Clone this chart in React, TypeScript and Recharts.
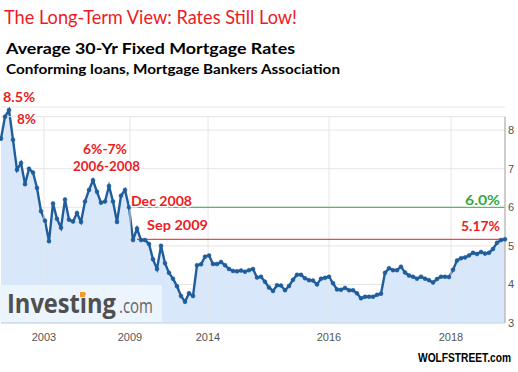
import {
    ComposedChart,
    Area,
    XAxis,
    YAxis,
    CartesianGrid,
    ReferenceLine,
} from "recharts"

// MBA 30-yr fixed rate, samples, oldest first
const rates = [
    7.78, 8.35, 8.52, 7.75, 6.97, 7.15, 6.6, 7.0, 6.9, 6.5,
    5.9, 5.65, 5.12, 6.1, 5.7, 5.47, 6.2, 5.68, 5.63, 5.85,
    5.62, 6.15, 6.45, 6.7, 6.4, 6.12, 6.15, 6.55, 6.15, 5.62,
    6.3, 6.45, 6.0, 5.15, 5.45, 5.15, 5.15, 5.05, 4.65, 4.4,
    5.0, 4.55, 4.3, 4.15, 3.95, 3.7, 3.55, 3.77, 3.7, 4.5,
    4.52, 4.72, 4.75, 4.53, 4.53, 4.58, 4.5, 4.4, 4.35, 4.34,
    4.36, 4.33, 4.37, 4.4, 4.18, 4.2, 4.07, 3.92, 3.83, 3.98,
    3.97, 3.85, 3.96, 4.12, 4.25, 4.25, 4.16, 4.11, 4.1, 4.0,
    4.15, 4.17, 4.2, 4.03, 3.87, 3.86, 3.91, 3.85, 3.85, 3.77,
    3.64, 3.68, 3.68, 3.68, 3.73, 3.76, 4.3, 4.42, 4.37, 4.37,
    4.46, 4.31, 4.23, 4.2, 4.15, 4.2, 4.15, 4.11, 4.05, 4.14,
    4.2, 4.2, 4.19, 4.38, 4.62, 4.68, 4.7, 4.75, 4.82, 4.79,
    4.84, 4.8, 4.82, 4.92, 5.08, 5.15, 5.17,
]

// investing.com's time axis is not linear, so ticks sit at sample positions
const yearTicks = [10.75, 32.25, 51.75, 82, 112.5]
const yearLabels = ["2003", "2009", "2014", "2016", "2018"]
const rateTicks = [3, 4, 5, 6, 7, 8]

const dec2008 = { index: 32, rate: 6.0 }
const sep2009 = { index: 34, rate: 5.17 }

const data = rates.map((rate, i) => ({ i, rate }))
const last = rates.length - 1
const plotTop = 8.35

const LINE = "#1f5d9c"
const RED = "#ec1c24"
const GREEN = "#35a846"
const calibri = "Lato, 'Open Sans', sans-serif"

function Note({ x, y, w, color = RED, children }: any) {
    return (
        <text
            x={x}
            y={y}
            textLength={w}
            lengthAdjust="spacingAndGlyphs"
            fontFamily={calibri}
            fontWeight="bold"
            fontSize={14}
            fill={color}
            stroke="#fff"
            strokeWidth={3}
            paintOrder="stroke"
        >
            {children}
        </text>
    )
}

export default function App() {
    return (
        <div style={{ position: "absolute", left: 0, top: 0, width: 518, height: 372, background: "#fff" }}>
            <ComposedChart
                width={518}
                height={372}
                data={data}
                margin={{ top: 107, right: 0, bottom: 19, left: 1 }}
            >
                <CartesianGrid vertical={false} stroke="#e6e6e6" />
                {yearTicks.map((t) => (
                    <ReferenceLine
                        key={t}
                        segment={[{ x: t, y: 3 }, { x: t, y: plotTop }]}
                        stroke="#e6e6e6"
                    />
                ))}
                <ReferenceLine segment={[{ x: 0, y: plotTop }, { x: last, y: plotTop }]} stroke="#e3e3e3" />

                <XAxis
                    dataKey="i"
                    type="number"
                    domain={[0, last]}
                    ticks={yearTicks}
                    tickFormatter={(v) => yearLabels[yearTicks.indexOf(v)]}
                    axisLine={{ stroke: "#c6d6e8" }}
                    tickLine={false}
                    tickSize={0}
                    tickMargin={10}
                    height={30}
                    tick={{ fontSize: 11, fill: "#555", fontFamily: "'Liberation Sans', Arial" }}
                />
                <YAxis
                    orientation="right"
                    domain={[3, 8.6]}
                    ticks={rateTicks}
                    axisLine={false}
                    tickLine={false}
                    tickSize={0}
                    tickMargin={3}
                    width={13}
                    tick={{ fontSize: 11, fill: "#555", fontFamily: "'Liberation Sans', Arial", textAnchor: "start" }}
                />

                <Area
                    type="linear"
                    dataKey="rate"
                    stroke={LINE}
                    strokeWidth={2.4}
                    fill="#d8e8fa"
                    fillOpacity={1}
                    dot={{ r: 2, fill: LINE, stroke: LINE, strokeWidth: 0.5 }}
                    isAnimationActive={false}
                />

                <ReferenceLine
                    segment={[{ x: dec2008.index, y: dec2008.rate }, { x: last, y: dec2008.rate }]}
                    stroke={GREEN}
                />
                <ReferenceLine
                    segment={[{ x: sep2009.index, y: sep2009.rate }, { x: last, y: sep2009.rate }]}
                    stroke={RED}
                />
                <ReferenceLine segment={[{ x: last, y: 3 }, { x: last, y: plotTop }]} stroke="#bdbdbd" strokeWidth={1.5} />
            </ComposedChart>

            <svg width={518} height={372} style={{ position: "absolute", left: 0, top: 0, pointerEvents: "none" }}>
                <text x={4} y={23.5} textLength={293} lengthAdjust="spacingAndGlyphs" fontFamily={calibri} fontSize={19} fill={RED}>
                    The Long-Term View: Rates Still Low!
                </text>
                <text x={6} y={53.5} textLength={289} lengthAdjust="spacingAndGlyphs" fontFamily={calibri} fontWeight="bold" fontSize={15} fill="#000">
                    Average 30-Yr Fixed Mortgage Rates
                </text>
                <text x={6} y={74.3} textLength={334} lengthAdjust="spacingAndGlyphs" fontFamily={calibri} fontWeight="bold" fontSize={13} fill="#000">
                    Conforming loans, Mortgage Bankers Association
                </text>

                <Note x={3} y={102} w={32}>8.5%</Note>
                <Note x={17} y={124} w={19}>8%</Note>
                <Note x={83} y={154} w={44}>6%-7%</Note>
                <Note x={73} y={171} w={67}>2006-2008</Note>
                <Note x={131} y={205.5} w={61}>Dec 2008</Note>
                <Note x={147} y={230} w={61}>Sep 2009</Note>
                <Note x={465} y={205} w={35} color={GREEN}>6.0%</Note>
                <Note x={461} y={231} w={39}>5.17%</Note>

                {/* investing.com watermark */}
                <rect x={0} y={285} width={162} height={37} fill="#ecf4fd" />
                <text x={7} y={313} textLength={109} lengthAdjust="spacingAndGlyphs" fontFamily="'Open Sans', sans-serif" fontWeight="bold" fontSize={26} fill="#4f4f4f">
                    Investing
                </text>
                <rect x={80} y={292} width={5} height={5} fill="#f39c2b" />
                <text x={119} y={313} textLength={34} lengthAdjust="spacingAndGlyphs" fontFamily="'Open Sans', sans-serif" fontSize={20} fill="#666">
                    .com
                </text>

                <text x={418} y={362} textLength={93} lengthAdjust="spacingAndGlyphs" fontFamily="'Liberation Sans', Arial" fontWeight="bold" fontSize={12} fill="#000">
                    WOLFSTREET.com
                </text>
            </svg>
        </div>
    )
}
